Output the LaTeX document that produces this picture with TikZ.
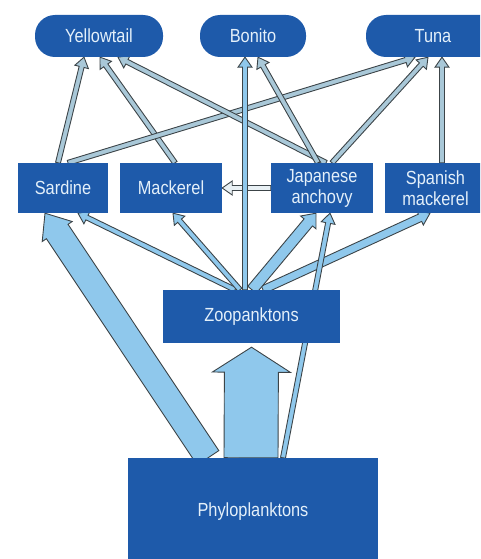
\documentclass[tikz,border=0pt]{standalone}
\usepackage{fontspec}
\setmainfont{Liberation Sans}[FakeStretch=0.86]
\usetikzlibrary{calc}
\pgfdeclarelayer{background}
\pgfsetlayers{background,main}
\definecolor{boxblue}{HTML}{1E5AAA}
\definecolor{txt}{HTML}{E4F0FA}
\definecolor{arrline}{HTML}{3C4448}
\definecolor{topfill}{HTML}{A9C8D8}
\definecolor{lowfill}{HTML}{8FC8EC}
\definecolor{pale}{HTML}{E8F0F4}
\tikzset{
 fishbox/.style={fill=boxblue, text=txt, font=\fontsize{19}{21}\selectfont, align=center, inner sep=0pt, minimum height=50pt},
 predator/.style={fishbox, rounded corners=20pt, minimum height=42pt},
 arr/.style={draw=arrline, line width=0.9pt, fill=lowfill},
 toparr/.style={fill=topfill},
}
\newcommand\farrow[6][]{%
 \path (#2) coordinate (S) (#3) coordinate (E);
 \coordinate (B) at ($(E)!#6!(S)$);
 \draw[arr,#1] ($(S)!#4!90:(E)$) -- ($(B)!#4!90:(E)$) -- ($(B)!#5!90:(E)$) -- (E) -- ($(B)!#5!-90:(E)$) -- ($(B)!#4!-90:(E)$) -- ($(S)!#4!-90:(E)$) -- cycle;
}
\begin{document}
\begin{tikzpicture}[x=1pt,y=-1pt]
\useasboundingbox (0,0) rectangle (480,559);
\clip (0,0) rectangle (480,559);
\node[predator, minimum width=128pt] (yellow) at (99,36) {Yellowtail};
\node[predator, minimum width=106pt] (bonito) at (253,36) {Bonito};
\node[predator, minimum width=134pt] (tuna) at (433,36) {Tuna};
\node[fishbox, minimum width=90pt] (sardine) at (63,188) {Sardine};
\node[fishbox, minimum width=102pt] (mackerel) at (171,188) {Mackerel};
\node[fishbox, minimum width=102pt] (anchovy) at (322,188) {Japanese\\anchovy};
\node[fishbox, minimum width=101pt] (spanish) at (435.5,188) {Spanish\\mackerel};
\node[fishbox, minimum width=177pt, minimum height=53pt] (zoo) at (251.5,316.5) {Zoopanktons};
\node[fishbox, minimum width=250pt, minimum height=108pt] (phylo) at (253,512) {Phyloplanktons};
\begin{pgfonlayer}{background}
% arrows to top predators
\farrow[toparr]{[xshift=-5pt]sardine.north}{[xshift=-15pt]yellow.south}{2.5pt}{7pt}{10pt}
\farrow[toparr]{[xshift=4pt]mackerel.north}{[xshift=1pt]yellow.south}{2.5pt}{7pt}{10pt}
\farrow[toparr]{[xshift=5pt]sardine.north}{[xshift=-18pt]tuna.south}{2.5pt}{7pt}{10pt}
\farrow[toparr]{[xshift=4pt]anchovy.north}{[xshift=19pt]yellow.south}{2.5pt}{7pt}{10pt}
\farrow[toparr]{[xshift=-4pt]anchovy.north}{[xshift=5pt]bonito.south}{2.5pt}{7pt}{10pt}
\farrow[toparr]{[xshift=10pt]anchovy.north}{[xshift=-5pt]tuna.south}{2.5pt}{7pt}{10pt}
\farrow[toparr]{[xshift=6.5pt]spanish.north}{[xshift=9pt]tuna.south}{2.5pt}{7pt}{10pt}
% anchovy to mackerel
\farrow[fill=pale]{anchovy.west}{mackerel.east}{2.5pt}{7pt}{10pt}
% zooplankton arrows
\farrow{[xshift=-6.5pt]zoo.north}{[xshift=-8pt]bonito.south}{2.5pt}{7pt}{10pt}
\farrow{[xshift=-16.5pt]zoo.north}{[xshift=15pt]sardine.south}{2.5pt}{7pt}{10pt}
\farrow{[xshift=-11.5pt]zoo.north}{[xshift=2pt]mackerel.south}{2.5pt}{7pt}{10pt}
\farrow{[xshift=11.5pt]zoo.north}{[xshift=-5.5pt]spanish.south}{4pt}{8pt}{11pt}
\farrow{[xshift=30pt]phylo.north}{[xshift=8pt]anchovy.south}{2.5pt}{7pt}{10pt}
\farrow{[xshift=0.5pt]zoo.north}{[xshift=-6pt]anchovy.south}{5.5pt}{10pt}{12pt}
% phytoplankton arrows
\farrow{[xshift=-45pt]phylo.north}{[xshift=-18pt]sardine.south}{13pt}{18pt}{22pt}
\farrow{[xshift=-2pt]phylo.north}{[yshift=-4pt]zoo.south}{27pt}{39pt}{25pt}
\end{pgfonlayer}
\end{tikzpicture}
\end{document}
